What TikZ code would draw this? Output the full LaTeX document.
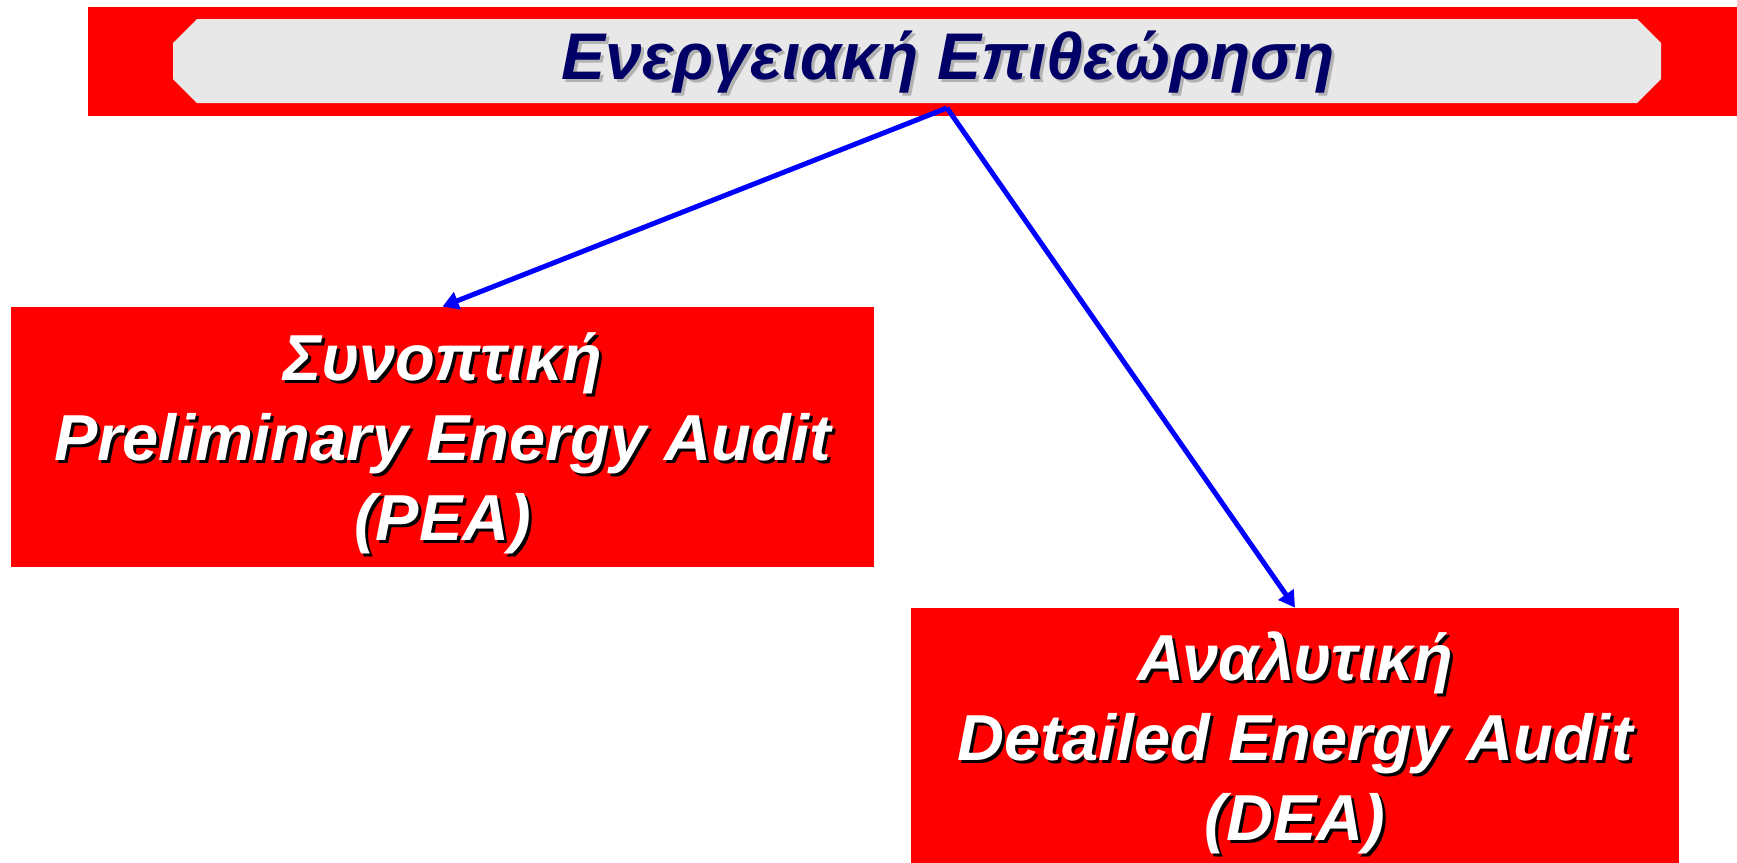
\documentclass[tikz,border=0pt]{standalone}
\usepackage{fontspec}
\setmainfont{Liberation Sans}
\usetikzlibrary{arrows.meta}

\definecolor{panelgray}{HTML}{E8E8E8}
\definecolor{titleblue}{HTML}{000066}
\definecolor{titleshade}{HTML}{B2B2B2}

\begin{document}
\begin{tikzpicture}[x=0.5pt, y=-0.5pt,
		redbox/.style={fill=red, inner sep=0pt},
		boxtext/.style={font=\fontsize{32.5}{40}\selectfont\bfseries\itshape, align=center},
		titletext/.style={font=\fontsize{33}{38}\selectfont\bfseries\itshape, inner sep=0pt},
		link/.style={-{Triangle[length=8pt, width=9pt]}, blue, line width=2.5pt}]
		
		\useasboundingbox (0,0) rectangle (1737,863);
		
		\fill[red] (88,7) rectangle (1737,116);
		\fill[panelgray] (197,19) -- (1637,19) -- (1661,43) -- (1661,79) -- (1637,103) -- (197,103) -- (173,79) -- (173,43) -- cycle;
		
		\node[titletext, text=titleshade, anchor=base] (title shadow) at (951,82) {Ενεργειακή Επιθεώρηση};
		\node[titletext, text=titleblue, anchor=base] (title) at (948,79) {Ενεργειακή Επιθεώρηση};
		
		\node[redbox, minimum width=431.5pt, minimum height=130pt] (pea) at (442.5,437) {};
		\node[redbox, minimum width=384pt, minimum height=127.5pt] (dea) at (1295,735.5) {};
		
		\node[boxtext, text=black] (pea shadow) at ([xshift=1.5pt, yshift=-4.5pt]pea.center) {Συνοπτική\\Preliminary Energy Audit\\(PEA)};
		\node[boxtext, text=white] (pea text) at ([yshift=-3pt]pea.center) {Συνοπτική\\Preliminary Energy Audit\\(PEA)};
		
		\node[boxtext, text=black] (dea shadow) at ([xshift=1.5pt, yshift=-5pt]dea.center) {Αναλυτική\\Detailed Energy Audit\\(DEA)};
		\node[boxtext, text=white] (dea text) at ([yshift=-3.5pt]dea.center) {Αναλυτική\\Detailed Energy Audit\\(DEA)};
		
		\coordinate (hub) at (947,108);
		\draw[link] (hub) -- (pea.north);
		\draw[link] (hub) -- (dea.north);
		
	\end{tikzpicture}
\end{document}
